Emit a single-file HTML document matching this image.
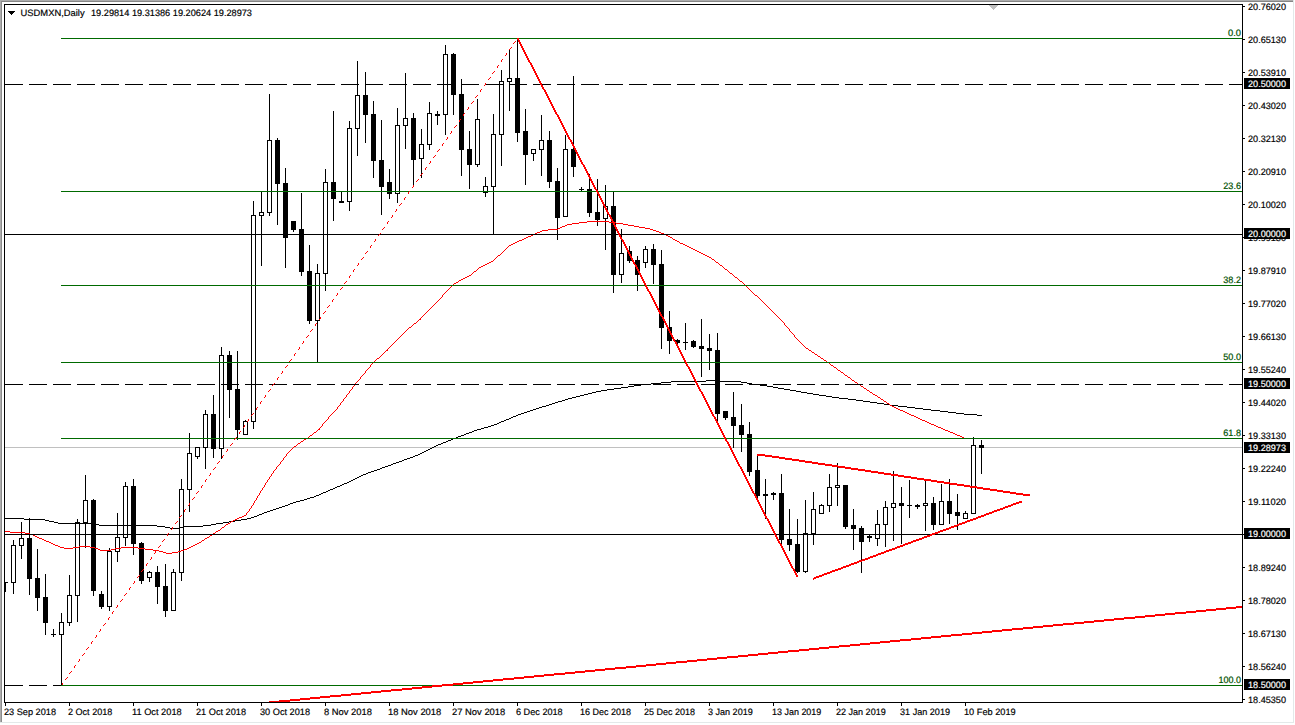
<!DOCTYPE html>
<html><head><meta charset="utf-8"><title>USDMXN,Daily</title>
<style>html,body{margin:0;padding:0;background:#fff;overflow:hidden}svg{display:block}text{font-family:"Liberation Sans",sans-serif;font-size:9.2px;fill:#000;stroke:#000;stroke-width:0.18px}</style>
</head><body>
<svg width="1295" height="725" viewBox="0 0 1295 725" shape-rendering="crispEdges">
<rect x="0" y="0" width="1295" height="725" fill="#fff"/>
<defs><clipPath id="c"><rect x="5" y="5" width="1237" height="697"/></clipPath></defs>
<g clip-path="url(#c)">
<rect x="5" y="447" width="1237" height="1" fill="#c0c0c0"/>
<rect x="5" y="582" width="1" height="10" fill="#000"/>
<rect x="3" y="582" width="5" height="1" fill="#000"/>
<rect x="13" y="540" width="1" height="54" fill="#000"/>
<rect x="11" y="545" width="5" height="38" fill="#000"/>
<rect x="12" y="546" width="3" height="36" fill="#fff"/>
<rect x="21" y="522" width="1" height="37" fill="#000"/>
<rect x="19" y="538" width="5" height="8" fill="#000"/>
<rect x="20" y="539" width="3" height="6" fill="#fff"/>
<rect x="29" y="518" width="1" height="77" fill="#000"/>
<rect x="27" y="538" width="5" height="41" fill="#000"/>
<rect x="37" y="549" width="1" height="62" fill="#000"/>
<rect x="35" y="578" width="5" height="20" fill="#000"/>
<rect x="45" y="574" width="1" height="61" fill="#000"/>
<rect x="43" y="597" width="5" height="26" fill="#000"/>
<rect x="53" y="629" width="1" height="8" fill="#000"/>
<rect x="51" y="634" width="5" height="1" fill="#000"/>
<rect x="61" y="613" width="1" height="73" fill="#000"/>
<rect x="59" y="622" width="5" height="13" fill="#000"/>
<rect x="60" y="623" width="3" height="11" fill="#fff"/>
<rect x="69" y="575" width="1" height="51" fill="#000"/>
<rect x="67" y="595" width="5" height="28" fill="#000"/>
<rect x="68" y="596" width="3" height="26" fill="#fff"/>
<rect x="77" y="519" width="1" height="103" fill="#000"/>
<rect x="75" y="522" width="5" height="74" fill="#000"/>
<rect x="76" y="523" width="3" height="72" fill="#fff"/>
<rect x="85" y="475" width="1" height="73" fill="#000"/>
<rect x="83" y="500" width="5" height="23" fill="#000"/>
<rect x="84" y="501" width="3" height="21" fill="#fff"/>
<rect x="93" y="499" width="1" height="97" fill="#000"/>
<rect x="91" y="500" width="5" height="91" fill="#000"/>
<rect x="101" y="591" width="1" height="18" fill="#000"/>
<rect x="99" y="594" width="5" height="13" fill="#000"/>
<rect x="109" y="548" width="1" height="63" fill="#000"/>
<rect x="107" y="551" width="5" height="56" fill="#000"/>
<rect x="108" y="552" width="3" height="54" fill="#fff"/>
<rect x="117" y="513" width="1" height="49" fill="#000"/>
<rect x="115" y="537" width="5" height="15" fill="#000"/>
<rect x="116" y="538" width="3" height="13" fill="#fff"/>
<rect x="125" y="482" width="1" height="64" fill="#000"/>
<rect x="123" y="486" width="5" height="52" fill="#000"/>
<rect x="124" y="487" width="3" height="50" fill="#fff"/>
<rect x="133" y="479" width="1" height="76" fill="#000"/>
<rect x="131" y="486" width="5" height="58" fill="#000"/>
<rect x="141" y="542" width="1" height="42" fill="#000"/>
<rect x="139" y="543" width="5" height="38" fill="#000"/>
<rect x="149" y="571" width="1" height="11" fill="#000"/>
<rect x="147" y="572" width="5" height="6" fill="#000"/>
<rect x="148" y="573" width="3" height="4" fill="#fff"/>
<rect x="157" y="566" width="1" height="38" fill="#000"/>
<rect x="155" y="572" width="5" height="15" fill="#000"/>
<rect x="165" y="564" width="1" height="53" fill="#000"/>
<rect x="163" y="586" width="5" height="25" fill="#000"/>
<rect x="173" y="569" width="1" height="42" fill="#000"/>
<rect x="171" y="572" width="5" height="39" fill="#000"/>
<rect x="172" y="573" width="3" height="37" fill="#fff"/>
<rect x="181" y="479" width="1" height="102" fill="#000"/>
<rect x="179" y="489" width="5" height="84" fill="#000"/>
<rect x="180" y="490" width="3" height="82" fill="#fff"/>
<rect x="189" y="433" width="1" height="79" fill="#000"/>
<rect x="187" y="453" width="5" height="37" fill="#000"/>
<rect x="188" y="454" width="3" height="35" fill="#fff"/>
<rect x="197" y="447" width="1" height="12" fill="#000"/>
<rect x="195" y="447" width="5" height="10" fill="#000"/>
<rect x="196" y="448" width="3" height="8" fill="#fff"/>
<rect x="205" y="410" width="1" height="59" fill="#000"/>
<rect x="203" y="414" width="5" height="34" fill="#000"/>
<rect x="204" y="415" width="3" height="32" fill="#fff"/>
<rect x="213" y="395" width="1" height="63" fill="#000"/>
<rect x="211" y="414" width="5" height="35" fill="#000"/>
<rect x="221" y="347" width="1" height="112" fill="#000"/>
<rect x="219" y="355" width="5" height="94" fill="#000"/>
<rect x="220" y="356" width="3" height="92" fill="#fff"/>
<rect x="229" y="351" width="1" height="67" fill="#000"/>
<rect x="227" y="355" width="5" height="35" fill="#000"/>
<rect x="237" y="351" width="1" height="89" fill="#000"/>
<rect x="235" y="389" width="5" height="41" fill="#000"/>
<rect x="245" y="420" width="1" height="15" fill="#000"/>
<rect x="243" y="421" width="5" height="14" fill="#000"/>
<rect x="244" y="422" width="3" height="12" fill="#fff"/>
<rect x="253" y="201" width="1" height="228" fill="#000"/>
<rect x="251" y="215" width="5" height="207" fill="#000"/>
<rect x="252" y="216" width="3" height="205" fill="#fff"/>
<rect x="261" y="191" width="1" height="75" fill="#000"/>
<rect x="259" y="212" width="5" height="4" fill="#000"/>
<rect x="260" y="213" width="3" height="2" fill="#fff"/>
<rect x="269" y="94" width="1" height="122" fill="#000"/>
<rect x="267" y="140" width="5" height="73" fill="#000"/>
<rect x="268" y="141" width="3" height="71" fill="#fff"/>
<rect x="277" y="138" width="1" height="87" fill="#000"/>
<rect x="275" y="140" width="5" height="44" fill="#000"/>
<rect x="285" y="168" width="1" height="100" fill="#000"/>
<rect x="283" y="183" width="5" height="55" fill="#000"/>
<rect x="293" y="221" width="1" height="11" fill="#000"/>
<rect x="291" y="221" width="5" height="9" fill="#000"/>
<rect x="301" y="193" width="1" height="83" fill="#000"/>
<rect x="299" y="229" width="5" height="43" fill="#000"/>
<rect x="309" y="245" width="1" height="79" fill="#000"/>
<rect x="307" y="271" width="5" height="50" fill="#000"/>
<rect x="317" y="264" width="1" height="99" fill="#000"/>
<rect x="315" y="273" width="5" height="48" fill="#000"/>
<rect x="316" y="274" width="3" height="46" fill="#fff"/>
<rect x="325" y="169" width="1" height="122" fill="#000"/>
<rect x="323" y="182" width="5" height="92" fill="#000"/>
<rect x="324" y="183" width="3" height="90" fill="#fff"/>
<rect x="333" y="111" width="1" height="110" fill="#000"/>
<rect x="331" y="182" width="5" height="17" fill="#000"/>
<rect x="341" y="191" width="1" height="12" fill="#000"/>
<rect x="339" y="201" width="5" height="2" fill="#000"/>
<rect x="349" y="121" width="1" height="90" fill="#000"/>
<rect x="347" y="128" width="5" height="74" fill="#000"/>
<rect x="348" y="129" width="3" height="72" fill="#fff"/>
<rect x="357" y="61" width="1" height="95" fill="#000"/>
<rect x="355" y="95" width="5" height="34" fill="#000"/>
<rect x="356" y="96" width="3" height="32" fill="#fff"/>
<rect x="365" y="72" width="1" height="71" fill="#000"/>
<rect x="363" y="95" width="5" height="20" fill="#000"/>
<rect x="373" y="101" width="1" height="77" fill="#000"/>
<rect x="371" y="114" width="5" height="47" fill="#000"/>
<rect x="381" y="120" width="1" height="95" fill="#000"/>
<rect x="379" y="160" width="5" height="27" fill="#000"/>
<rect x="389" y="169" width="1" height="30" fill="#000"/>
<rect x="387" y="182" width="5" height="12" fill="#000"/>
<rect x="397" y="108" width="1" height="95" fill="#000"/>
<rect x="395" y="125" width="5" height="69" fill="#000"/>
<rect x="396" y="126" width="3" height="67" fill="#fff"/>
<rect x="405" y="73" width="1" height="76" fill="#000"/>
<rect x="403" y="118" width="5" height="8" fill="#000"/>
<rect x="404" y="119" width="3" height="6" fill="#fff"/>
<rect x="413" y="113" width="1" height="74" fill="#000"/>
<rect x="411" y="118" width="5" height="42" fill="#000"/>
<rect x="421" y="129" width="1" height="49" fill="#000"/>
<rect x="419" y="144" width="5" height="15" fill="#000"/>
<rect x="420" y="145" width="3" height="13" fill="#fff"/>
<rect x="429" y="102" width="1" height="48" fill="#000"/>
<rect x="427" y="113" width="5" height="32" fill="#000"/>
<rect x="428" y="114" width="3" height="30" fill="#fff"/>
<rect x="437" y="111" width="1" height="14" fill="#000"/>
<rect x="435" y="114" width="5" height="2" fill="#000"/>
<rect x="445" y="45" width="1" height="90" fill="#000"/>
<rect x="443" y="54" width="5" height="61" fill="#000"/>
<rect x="444" y="55" width="3" height="59" fill="#fff"/>
<rect x="453" y="53" width="1" height="62" fill="#000"/>
<rect x="451" y="54" width="5" height="41" fill="#000"/>
<rect x="461" y="79" width="1" height="97" fill="#000"/>
<rect x="459" y="94" width="5" height="56" fill="#000"/>
<rect x="469" y="131" width="1" height="58" fill="#000"/>
<rect x="467" y="149" width="5" height="16" fill="#000"/>
<rect x="477" y="99" width="1" height="68" fill="#000"/>
<rect x="475" y="119" width="5" height="46" fill="#000"/>
<rect x="476" y="120" width="3" height="44" fill="#fff"/>
<rect x="485" y="177" width="1" height="20" fill="#000"/>
<rect x="483" y="186" width="5" height="7" fill="#000"/>
<rect x="484" y="187" width="3" height="5" fill="#fff"/>
<rect x="493" y="114" width="1" height="121" fill="#000"/>
<rect x="491" y="134" width="5" height="53" fill="#000"/>
<rect x="492" y="135" width="3" height="51" fill="#fff"/>
<rect x="501" y="70" width="1" height="96" fill="#000"/>
<rect x="499" y="81" width="5" height="54" fill="#000"/>
<rect x="500" y="82" width="3" height="52" fill="#fff"/>
<rect x="509" y="50" width="1" height="61" fill="#000"/>
<rect x="507" y="78" width="5" height="4" fill="#000"/>
<rect x="508" y="79" width="3" height="2" fill="#fff"/>
<rect x="517" y="39" width="1" height="103" fill="#000"/>
<rect x="515" y="78" width="5" height="55" fill="#000"/>
<rect x="525" y="109" width="1" height="76" fill="#000"/>
<rect x="523" y="131" width="5" height="24" fill="#000"/>
<rect x="533" y="149" width="1" height="12" fill="#000"/>
<rect x="531" y="149" width="5" height="5" fill="#000"/>
<rect x="532" y="150" width="3" height="3" fill="#fff"/>
<rect x="541" y="115" width="1" height="61" fill="#000"/>
<rect x="539" y="140" width="5" height="10" fill="#000"/>
<rect x="540" y="141" width="3" height="8" fill="#fff"/>
<rect x="549" y="131" width="1" height="57" fill="#000"/>
<rect x="547" y="140" width="5" height="42" fill="#000"/>
<rect x="557" y="168" width="1" height="72" fill="#000"/>
<rect x="555" y="181" width="5" height="37" fill="#000"/>
<rect x="565" y="135" width="1" height="82" fill="#000"/>
<rect x="563" y="149" width="5" height="68" fill="#000"/>
<rect x="564" y="150" width="3" height="66" fill="#fff"/>
<rect x="573" y="76" width="1" height="101" fill="#000"/>
<rect x="571" y="149" width="5" height="18" fill="#000"/>
<rect x="581" y="187" width="1" height="5" fill="#000"/>
<rect x="579" y="189" width="5" height="1" fill="#000"/>
<rect x="589" y="174" width="1" height="43" fill="#000"/>
<rect x="587" y="189" width="5" height="24" fill="#000"/>
<rect x="597" y="179" width="1" height="47" fill="#000"/>
<rect x="595" y="212" width="5" height="8" fill="#000"/>
<rect x="605" y="185" width="1" height="65" fill="#000"/>
<rect x="603" y="206" width="5" height="13" fill="#000"/>
<rect x="604" y="207" width="3" height="11" fill="#fff"/>
<rect x="613" y="191" width="1" height="102" fill="#000"/>
<rect x="611" y="206" width="5" height="69" fill="#000"/>
<rect x="621" y="229" width="1" height="54" fill="#000"/>
<rect x="619" y="253" width="5" height="22" fill="#000"/>
<rect x="620" y="254" width="3" height="20" fill="#fff"/>
<rect x="629" y="246" width="1" height="17" fill="#000"/>
<rect x="627" y="251" width="5" height="10" fill="#000"/>
<rect x="637" y="256" width="1" height="35" fill="#000"/>
<rect x="635" y="260" width="5" height="15" fill="#000"/>
<rect x="645" y="246" width="1" height="22" fill="#000"/>
<rect x="643" y="249" width="5" height="14" fill="#000"/>
<rect x="644" y="250" width="3" height="12" fill="#fff"/>
<rect x="653" y="244" width="1" height="40" fill="#000"/>
<rect x="651" y="249" width="5" height="16" fill="#000"/>
<rect x="661" y="250" width="1" height="99" fill="#000"/>
<rect x="659" y="264" width="5" height="64" fill="#000"/>
<rect x="669" y="311" width="1" height="43" fill="#000"/>
<rect x="667" y="327" width="5" height="14" fill="#000"/>
<rect x="677" y="339" width="1" height="5" fill="#000"/>
<rect x="675" y="340" width="5" height="3" fill="#000"/>
<rect x="685" y="323" width="1" height="27" fill="#000"/>
<rect x="683" y="342" width="5" height="1" fill="#000"/>
<rect x="693" y="340" width="1" height="8" fill="#000"/>
<rect x="691" y="341" width="5" height="6" fill="#000"/>
<rect x="701" y="319" width="1" height="58" fill="#000"/>
<rect x="699" y="346" width="5" height="3" fill="#000"/>
<rect x="709" y="334" width="1" height="36" fill="#000"/>
<rect x="707" y="348" width="5" height="3" fill="#000"/>
<rect x="717" y="333" width="1" height="88" fill="#000"/>
<rect x="715" y="350" width="5" height="64" fill="#000"/>
<rect x="725" y="411" width="1" height="9" fill="#000"/>
<rect x="723" y="411" width="5" height="7" fill="#000"/>
<rect x="733" y="392" width="1" height="56" fill="#000"/>
<rect x="731" y="417" width="5" height="9" fill="#000"/>
<rect x="741" y="404" width="1" height="48" fill="#000"/>
<rect x="739" y="425" width="5" height="10" fill="#000"/>
<rect x="749" y="422" width="1" height="54" fill="#000"/>
<rect x="747" y="434" width="5" height="38" fill="#000"/>
<rect x="757" y="455" width="1" height="43" fill="#000"/>
<rect x="755" y="470" width="5" height="26" fill="#000"/>
<rect x="765" y="479" width="1" height="40" fill="#000"/>
<rect x="763" y="494" width="5" height="2" fill="#000"/>
<rect x="773" y="492" width="1" height="8" fill="#000"/>
<rect x="771" y="493" width="5" height="2" fill="#000"/>
<rect x="781" y="474" width="1" height="71" fill="#000"/>
<rect x="779" y="493" width="5" height="47" fill="#000"/>
<rect x="789" y="509" width="1" height="42" fill="#000"/>
<rect x="787" y="539" width="5" height="6" fill="#000"/>
<rect x="797" y="519" width="1" height="54" fill="#000"/>
<rect x="795" y="544" width="5" height="28" fill="#000"/>
<rect x="805" y="500" width="1" height="73" fill="#000"/>
<rect x="803" y="533" width="5" height="39" fill="#000"/>
<rect x="804" y="534" width="3" height="37" fill="#fff"/>
<rect x="813" y="492" width="1" height="53" fill="#000"/>
<rect x="811" y="509" width="5" height="25" fill="#000"/>
<rect x="812" y="510" width="3" height="23" fill="#fff"/>
<rect x="821" y="504" width="1" height="10" fill="#000"/>
<rect x="819" y="505" width="5" height="9" fill="#000"/>
<rect x="820" y="506" width="3" height="7" fill="#fff"/>
<rect x="829" y="474" width="1" height="38" fill="#000"/>
<rect x="827" y="487" width="5" height="19" fill="#000"/>
<rect x="828" y="488" width="3" height="17" fill="#fff"/>
<rect x="837" y="463" width="1" height="43" fill="#000"/>
<rect x="835" y="485" width="5" height="3" fill="#000"/>
<rect x="836" y="486" width="3" height="1" fill="#fff"/>
<rect x="845" y="485" width="1" height="44" fill="#000"/>
<rect x="843" y="485" width="5" height="42" fill="#000"/>
<rect x="853" y="509" width="1" height="41" fill="#000"/>
<rect x="851" y="525" width="5" height="4" fill="#000"/>
<rect x="861" y="526" width="1" height="47" fill="#000"/>
<rect x="859" y="528" width="5" height="14" fill="#000"/>
<rect x="869" y="535" width="1" height="7" fill="#000"/>
<rect x="867" y="536" width="5" height="2" fill="#000"/>
<rect x="877" y="510" width="1" height="36" fill="#000"/>
<rect x="875" y="524" width="5" height="15" fill="#000"/>
<rect x="876" y="525" width="3" height="13" fill="#fff"/>
<rect x="885" y="501" width="1" height="46" fill="#000"/>
<rect x="883" y="507" width="5" height="18" fill="#000"/>
<rect x="884" y="508" width="3" height="16" fill="#fff"/>
<rect x="893" y="471" width="1" height="70" fill="#000"/>
<rect x="891" y="503" width="5" height="5" fill="#000"/>
<rect x="892" y="504" width="3" height="3" fill="#fff"/>
<rect x="901" y="487" width="1" height="57" fill="#000"/>
<rect x="899" y="503" width="5" height="3" fill="#000"/>
<rect x="909" y="480" width="1" height="38" fill="#000"/>
<rect x="907" y="505" width="5" height="1" fill="#000"/>
<rect x="917" y="504" width="1" height="5" fill="#000"/>
<rect x="915" y="505" width="5" height="2" fill="#000"/>
<rect x="925" y="480" width="1" height="51" fill="#000"/>
<rect x="923" y="503" width="5" height="3" fill="#000"/>
<rect x="924" y="504" width="3" height="1" fill="#fff"/>
<rect x="933" y="497" width="1" height="33" fill="#000"/>
<rect x="931" y="503" width="5" height="22" fill="#000"/>
<rect x="941" y="484" width="1" height="41" fill="#000"/>
<rect x="939" y="501" width="5" height="24" fill="#000"/>
<rect x="940" y="502" width="3" height="22" fill="#fff"/>
<rect x="949" y="479" width="1" height="45" fill="#000"/>
<rect x="947" y="501" width="5" height="13" fill="#000"/>
<rect x="957" y="494" width="1" height="36" fill="#000"/>
<rect x="955" y="512" width="5" height="4" fill="#000"/>
<rect x="965" y="511" width="1" height="8" fill="#000"/>
<rect x="963" y="513" width="5" height="6" fill="#000"/>
<rect x="964" y="514" width="3" height="4" fill="#fff"/>
<rect x="973" y="437" width="1" height="77" fill="#000"/>
<rect x="971" y="445" width="5" height="69" fill="#000"/>
<rect x="972" y="446" width="3" height="67" fill="#fff"/>
<rect x="981" y="440" width="1" height="34" fill="#000"/>
<rect x="979" y="445" width="5" height="3" fill="#000"/>
<path d="M5 518h19v1h-19zM24 519h21v1h-21zM45 520h4v1h-4zM49 521h5v1h-5zM54 522h4v1h-4zM58 523h37v1h-37zM95 524h4v1h-4zM99 525h58v1h-58zM157 526h8v1h-8zM165 527h5v1h-5zM170 528h9v1h-9zM179 527h4v1h-4zM183 526h20v1h-20zM203 525h8v1h-8zM211 524h5v1h-5zM216 523h7v1h-7zM223 522h6v1h-6zM229 521h6v1h-6zM235 520h6v1h-6zM241 519h6v1h-6zM247 518h4v1h-4zM251 517h3v1h-3zM254 516h3v1h-3zM257 515h2v1h-2zM259 514h3v1h-3zM262 513h2v1h-2zM264 512h3v1h-3zM267 511h3v1h-3zM270 510h3v1h-3zM273 509h3v1h-3zM276 508h3v1h-3zM279 507h3v1h-3zM282 506h3v1h-3zM285 505h3v1h-3zM288 504h2v1h-2zM290 503h3v1h-3zM293 502h3v1h-3zM296 501h4v1h-4zM300 500h4v1h-4zM304 499h3v1h-3zM307 498h3v1h-3zM310 497h4v1h-4zM314 496h2v1h-2zM316 495h3v1h-3zM319 494h2v1h-2zM321 493h2v1h-2zM323 492h3v1h-3zM326 491h2v1h-2zM328 490h2v1h-2zM330 489h3v1h-3zM333 488h2v1h-2zM335 487h2v1h-2zM337 486h3v1h-3zM340 485h2v1h-2zM342 484h2v1h-2zM344 483h3v1h-3zM347 482h2v1h-2zM349 481h2v1h-2zM351 480h2v1h-2zM353 479h2v1h-2zM355 478h2v1h-2zM357 477h2v1h-2zM359 476h2v1h-2zM361 475h2v1h-2zM363 474h3v1h-3zM366 473h2v1h-2zM368 472h3v1h-3zM371 471h3v1h-3zM374 470h3v1h-3zM377 469h3v1h-3zM380 468h2v1h-2zM382 467h3v1h-3zM385 466h3v1h-3zM388 465h3v1h-3zM391 464h2v1h-2zM393 463h3v1h-3zM396 462h3v1h-3zM399 461h3v1h-3zM402 460h2v1h-2zM404 459h3v1h-3zM407 458h3v1h-3zM410 457h3v1h-3zM413 456h2v1h-2zM415 455h3v1h-3zM418 454h2v1h-2zM420 453h2v1h-2zM422 452h2v1h-2zM424 451h2v1h-2zM426 450h2v1h-2zM428 449h2v1h-2zM430 448h2v1h-2zM432 447h2v1h-2zM434 446h2v1h-2zM436 445h2v1h-2zM438 444h3v1h-3zM441 443h2v1h-2zM443 442h3v1h-3zM446 441h2v1h-2zM448 440h3v1h-3zM451 439h2v1h-2zM453 438h3v1h-3zM456 437h2v1h-2zM458 436h3v1h-3zM461 435h3v1h-3zM464 434h2v1h-2zM466 433h3v1h-3zM469 432h3v1h-3zM472 431h2v1h-2zM474 430h3v1h-3zM477 429h4v1h-4zM481 428h3v1h-3zM484 427h4v1h-4zM488 426h3v1h-3zM491 425h3v1h-3zM494 424h3v1h-3zM497 423h2v1h-2zM499 422h2v1h-2zM501 421h3v1h-3zM504 420h2v1h-2zM506 419h3v1h-3zM509 418h2v1h-2zM511 417h2v1h-2zM513 416h3v1h-3zM516 415h2v1h-2zM518 414h3v1h-3zM521 413h3v1h-3zM524 412h3v1h-3zM527 411h3v1h-3zM530 410h3v1h-3zM533 409h3v1h-3zM536 408h3v1h-3zM539 407h3v1h-3zM542 406h4v1h-4zM546 405h3v1h-3zM549 404h3v1h-3zM552 403h3v1h-3zM555 402h3v1h-3zM558 401h4v1h-4zM562 400h3v1h-3zM565 399h3v1h-3zM568 398h4v1h-4zM572 397h4v1h-4zM576 396h4v1h-4zM580 395h4v1h-4zM584 394h4v1h-4zM588 393h4v1h-4zM592 392h4v1h-4zM596 391h5v1h-5zM601 390h6v1h-6zM607 389h7v1h-7zM614 388h7v1h-7zM621 387h7v1h-7zM628 386h6v1h-6zM634 385h7v1h-7zM641 384h10v1h-10zM651 383h10v1h-10zM661 382h10v1h-10zM671 381h35v1h-35zM706 380h11v1h-11zM717 381h24v1h-24zM741 382h6v1h-6zM747 383h5v1h-5zM752 384h8v1h-8zM760 385h7v1h-7zM767 386h6v1h-6zM773 387h5v1h-5zM778 388h6v1h-6zM784 389h6v1h-6zM790 390h6v1h-6zM796 391h5v1h-5zM801 392h6v1h-6zM807 393h6v1h-6zM813 394h6v1h-6zM819 395h7v1h-7zM826 396h6v1h-6zM832 397h7v1h-7zM839 398h9v1h-9zM848 399h8v1h-8zM856 400h7v1h-7zM863 401h7v1h-7zM870 402h7v1h-7zM877 403h7v1h-7zM884 404h6v1h-6zM890 405h8v1h-8zM898 406h9v1h-9zM907 407h8v1h-8zM915 408h8v1h-8zM923 409h8v1h-8zM931 410h9v1h-9zM940 411h8v1h-8zM948 412h8v1h-8zM956 413h8v1h-8zM964 414h13v1h-13zM977 415h5v1h-5z" fill="#000"/>
<path d="M5 531h5v1h-5zM10 532h15v1h-15zM25 533h5v1h-5zM30 534h3v1h-3zM33 535h2v1h-2zM35 536h2v1h-2zM37 537h2v1h-2zM39 538h3v1h-3zM42 539h2v1h-2zM44 540h2v1h-2zM46 541h3v1h-3zM49 542h2v1h-2zM51 543h2v1h-2zM53 544h2v1h-2zM55 545h3v1h-3zM58 546h2v1h-2zM60 547h4v1h-4zM64 548h9v1h-9zM73 547h6v1h-6zM79 546h11v1h-11zM90 547h5v1h-5zM95 548h3v1h-3zM98 549h2v1h-2zM100 550h11v1h-11zM111 549h4v1h-4zM115 548h6v1h-6zM121 547h17v1h-17zM138 548h7v1h-7zM145 549h8v1h-8zM153 550h6v1h-6zM159 551h4v1h-4zM163 552h3v1h-3zM166 553h6v1h-6zM172 552h6v1h-6zM178 551h3v1h-3zM181 550h3v1h-3zM184 549h3v1h-3zM187 548h2v1h-2zM189 547h2v1h-2zM191 546h2v1h-2zM193 545h2v1h-2zM195 544h2v1h-2zM197 543h2v1h-2zM199 542h2v1h-2zM201 541h1v1h-1zM202 540h2v1h-2zM204 539h1v1h-1zM205 538h2v1h-2zM207 537h2v1h-2zM209 536h1v1h-1zM210 535h2v1h-2zM212 534h1v1h-1zM213 533h2v1h-2zM215 532h1v1h-1zM216 531h2v1h-2zM218 530h2v1h-2zM220 529h1v1h-1zM221 528h1v1h-1zM222 527h2v1h-2zM224 526h1v1h-1zM225 525h1v1h-1zM226 524h2v1h-2zM228 523h2v1h-2zM230 522h1v1h-1zM231 521h2v1h-2zM233 520h2v1h-2zM235 519h2v1h-2zM237 518h2v1h-2zM239 517h3v1h-3zM242 516h2v1h-2zM244 515h2v1h-2zM246 513h1v2h-1zM247 512h1v1h-1zM248 511h1v1h-1zM249 509h1v2h-1zM250 508h1v1h-1zM251 506h1v2h-1zM252 505h1v1h-1zM253 503h1v2h-1zM254 501h1v2h-1zM255 500h1v1h-1zM256 498h1v2h-1zM257 496h1v2h-1zM258 495h1v1h-1zM259 493h1v2h-1zM260 491h1v2h-1zM261 490h1v1h-1zM262 488h1v2h-1zM263 487h1v1h-1zM264 485h1v2h-1zM265 483h1v2h-1zM266 482h1v1h-1zM267 480h1v2h-1zM268 479h1v1h-1zM269 477h1v2h-1zM270 476h1v1h-1zM271 474h1v2h-1zM272 473h1v1h-1zM273 471h1v2h-1zM274 470h1v1h-1zM275 469h1v1h-1zM276 467h1v2h-1zM277 466h1v1h-1zM278 465h1v1h-1zM279 464h1v1h-1zM280 462h1v2h-1zM281 461h1v1h-1zM282 460h1v1h-1zM283 458h1v2h-1zM284 457h1v1h-1zM285 456h1v1h-1zM286 454h1v2h-1zM287 453h1v1h-1zM288 452h1v1h-1zM289 451h1v1h-1zM290 450h1v1h-1zM291 449h1v1h-1zM292 448h1v1h-1zM293 447h1v1h-1zM294 446h2v1h-2zM296 445h1v1h-1zM297 444h1v1h-1zM298 443h2v1h-2zM300 442h1v1h-1zM301 441h2v1h-2zM303 440h1v1h-1zM304 439h2v1h-2zM306 438h2v1h-2zM308 437h1v1h-1zM309 436h1v1h-1zM310 435h2v1h-2zM312 434h1v1h-1zM313 433h1v1h-1zM314 432h2v1h-2zM316 431h1v1h-1zM317 430h1v1h-1zM318 429h1v1h-1zM319 428h1v2h-1zM320 427h1v1h-1zM321 426h1v1h-1zM322 424h1v2h-1zM323 423h1v1h-1zM324 422h1v1h-1zM325 421h1v1h-1zM326 420h1v1h-1zM327 419h1v1h-1zM328 417h1v2h-1zM329 416h1v1h-1zM330 415h1v1h-1zM331 414h1v1h-1zM332 413h1v1h-1zM333 412h1v1h-1zM334 411h1v1h-1zM335 410h1v1h-1zM336 409h1v1h-1zM337 407h1v2h-1zM338 406h1v1h-1zM339 405h1v1h-1zM340 403h1v2h-1zM341 402h1v1h-1zM342 401h1v1h-1zM343 399h1v2h-1zM344 398h1v1h-1zM345 397h1v1h-1zM346 395h1v2h-1zM347 394h1v1h-1zM348 393h1v1h-1zM349 391h1v2h-1zM350 390h1v1h-1zM351 389h1v1h-1zM352 387h1v2h-1zM353 386h1v1h-1zM354 385h1v1h-1zM355 383h1v2h-1zM356 382h1v1h-1zM357 381h1v1h-1zM358 380h1v1h-1zM359 379h1v1h-1zM360 377h1v2h-1zM361 376h1v1h-1zM362 375h1v1h-1zM363 374h1v1h-1zM364 373h1v1h-1zM365 371h1v2h-1zM366 370h1v1h-1zM367 369h1v1h-1zM368 368h1v1h-1zM369 367h1v1h-1zM370 365h1v2h-1zM371 364h1v1h-1zM372 363h1v1h-1zM373 362h1v1h-1zM374 361h1v1h-1zM375 360h1v1h-1zM376 359h1v1h-1zM377 358h2v1h-2zM379 357h1v1h-1zM380 356h1v1h-1zM381 355h1v1h-1zM382 354h1v1h-1zM383 353h1v1h-1zM384 352h1v1h-1zM385 351h1v1h-1zM386 350h1v1h-1zM387 349h1v2h-1zM388 348h1v1h-1zM389 347h1v1h-1zM390 346h1v1h-1zM391 345h1v1h-1zM392 344h1v1h-1zM393 343h1v1h-1zM394 342h1v1h-1zM395 341h1v1h-1zM396 340h1v1h-1zM397 339h1v1h-1zM398 338h1v1h-1zM399 337h1v1h-1zM400 336h1v1h-1zM401 335h1v1h-1zM402 334h1v1h-1zM403 333h1v1h-1zM404 332h1v1h-1zM405 331h1v1h-1zM406 330h1v1h-1zM407 329h1v1h-1zM408 328h1v1h-1zM409 327h2v1h-2zM411 326h1v1h-1zM412 325h1v1h-1zM413 324h1v1h-1zM414 323h2v1h-2zM416 322h1v1h-1zM417 321h1v1h-1zM418 320h1v1h-1zM419 319h1v1h-1zM420 318h1v2h-1zM421 317h1v1h-1zM422 316h1v1h-1zM423 315h1v1h-1zM424 314h1v1h-1zM425 313h1v1h-1zM426 312h1v1h-1zM427 311h1v1h-1zM428 310h1v1h-1zM429 309h1v1h-1zM430 308h1v1h-1zM431 307h1v1h-1zM432 306h1v1h-1zM433 305h1v1h-1zM434 304h1v1h-1zM435 303h1v1h-1zM436 302h1v1h-1zM437 301h1v1h-1zM438 300h1v1h-1zM439 299h1v1h-1zM440 298h1v1h-1zM441 297h1v1h-1zM442 295h1v2h-1zM443 294h1v1h-1zM444 293h1v1h-1zM445 292h1v1h-1zM446 291h1v1h-1zM447 290h1v1h-1zM448 289h1v1h-1zM449 288h1v1h-1zM450 287h1v1h-1zM451 286h1v1h-1zM452 285h1v1h-1zM453 284h1v1h-1zM454 283h2v1h-2zM456 282h2v1h-2zM458 281h1v1h-1zM459 280h2v1h-2zM461 279h2v1h-2zM463 278h2v1h-2zM465 277h2v1h-2zM467 276h2v1h-2zM469 275h2v1h-2zM471 274h1v1h-1zM472 273h1v1h-1zM473 272h1v1h-1zM474 271h2v1h-2zM476 270h1v1h-1zM477 269h1v1h-1zM478 268h1v1h-1zM479 267h2v1h-2zM481 266h2v1h-2zM483 265h2v1h-2zM485 264h2v1h-2zM487 263h2v1h-2zM489 262h2v1h-2zM491 261h2v1h-2zM493 260h1v1h-1zM494 259h1v1h-1zM495 258h1v1h-1zM496 257h1v1h-1zM497 256h1v1h-1zM498 255h2v1h-2zM500 254h1v1h-1zM501 253h1v1h-1zM502 252h1v1h-1zM503 251h1v1h-1zM504 250h1v1h-1zM505 249h1v1h-1zM506 248h1v1h-1zM507 247h1v1h-1zM508 246h1v1h-1zM509 245h2v1h-2zM511 244h2v1h-2zM513 243h2v1h-2zM515 242h2v1h-2zM517 241h2v1h-2zM519 240h3v1h-3zM522 239h2v1h-2zM524 238h2v1h-2zM526 237h2v1h-2zM528 236h3v1h-3zM531 235h2v1h-2zM533 234h2v1h-2zM535 233h2v1h-2zM537 232h3v1h-3zM540 231h2v1h-2zM542 230h6v1h-6zM548 229h10v1h-10zM558 228h2v1h-2zM560 227h2v1h-2zM562 226h3v1h-3zM565 225h2v1h-2zM567 224h5v1h-5zM572 223h7v1h-7zM579 222h8v1h-8zM587 221h22v1h-22zM609 222h7v1h-7zM616 223h7v1h-7zM623 224h5v1h-5zM628 225h6v1h-6zM634 226h5v1h-5zM639 227h6v1h-6zM645 228h5v1h-5zM650 229h3v1h-3zM653 230h3v1h-3zM656 231h3v1h-3zM659 232h2v1h-2zM661 233h3v1h-3zM664 234h2v1h-2zM666 235h2v1h-2zM668 236h2v1h-2zM670 237h2v1h-2zM672 238h1v1h-1zM673 239h2v1h-2zM675 240h2v1h-2zM677 241h2v1h-2zM679 242h1v1h-1zM680 243h3v1h-3zM683 244h2v1h-2zM685 245h2v1h-2zM687 246h2v1h-2zM689 247h2v1h-2zM691 248h2v1h-2zM693 249h2v1h-2zM695 250h2v1h-2zM697 251h2v1h-2zM699 252h2v1h-2zM701 253h2v1h-2zM703 254h2v1h-2zM705 255h2v1h-2zM707 256h2v1h-2zM709 257h2v1h-2zM711 258h1v1h-1zM712 259h2v1h-2zM714 260h1v1h-1zM715 261h1v1h-1zM716 262h2v1h-2zM718 263h1v1h-1zM719 264h1v1h-1zM720 265h2v1h-2zM722 266h1v1h-1zM723 267h1v1h-1zM724 268h1v1h-1zM725 269h2v1h-2zM727 270h1v1h-1zM728 271h1v1h-1zM729 272h1v1h-1zM730 273h2v1h-2zM732 274h1v1h-1zM733 275h1v1h-1zM734 276h1v1h-1zM735 277h2v1h-2zM737 278h1v1h-1zM738 279h1v1h-1zM739 280h1v1h-1zM740 281h2v1h-2zM742 282h1v1h-1zM743 283h1v1h-1zM744 284h1v1h-1zM745 285h1v1h-1zM746 286h1v1h-1zM747 287h1v1h-1zM748 288h1v1h-1zM749 289h1v1h-1zM750 290h1v1h-1zM751 291h1v1h-1zM752 292h1v1h-1zM753 293h1v1h-1zM754 294h1v1h-1zM755 295h2v1h-2zM757 296h1v1h-1zM758 297h1v1h-1zM759 298h1v1h-1zM760 299h1v1h-1zM761 300h1v1h-1zM762 301h1v1h-1zM763 302h1v1h-1zM764 303h1v1h-1zM765 304h1v1h-1zM766 305h1v1h-1zM767 306h1v1h-1zM768 307h1v1h-1zM769 308h1v1h-1zM770 309h1v1h-1zM771 310h1v1h-1zM772 311h1v1h-1zM773 312h1v1h-1zM774 313h1v1h-1zM775 314h1v1h-1zM776 315h1v1h-1zM777 316h1v1h-1zM778 317h1v1h-1zM779 318h1v1h-1zM780 319h1v1h-1zM781 320h1v1h-1zM782 321h1v1h-1zM783 322h1v1h-1zM784 323h1v2h-1zM785 325h1v1h-1zM786 326h1v1h-1zM787 327h1v1h-1zM788 328h1v1h-1zM789 329h1v2h-1zM790 331h1v1h-1zM791 332h1v1h-1zM792 333h1v1h-1zM793 334h1v1h-1zM794 335h1v2h-1zM795 337h1v1h-1zM796 338h1v1h-1zM797 339h1v1h-1zM798 340h1v1h-1zM799 341h1v1h-1zM800 342h1v1h-1zM801 343h1v1h-1zM802 344h1v1h-1zM803 345h1v1h-1zM804 346h1v1h-1zM805 347h1v1h-1zM806 348h2v1h-2zM808 349h1v1h-1zM809 350h2v1h-2zM811 351h1v1h-1zM812 352h2v1h-2zM814 353h1v1h-1zM815 354h2v1h-2zM817 355h1v1h-1zM818 356h2v1h-2zM820 357h1v1h-1zM821 358h2v1h-2zM823 359h1v1h-1zM824 360h2v1h-2zM826 361h1v1h-1zM827 362h2v1h-2zM829 363h1v1h-1zM830 364h1v1h-1zM831 365h2v1h-2zM833 366h1v1h-1zM834 367h2v1h-2zM836 368h1v1h-1zM837 369h1v1h-1zM838 370h2v1h-2zM840 371h1v1h-1zM841 372h2v1h-2zM843 373h1v1h-1zM844 374h1v1h-1zM845 375h2v1h-2zM847 376h1v1h-1zM848 377h2v1h-2zM850 378h1v1h-1zM851 379h1v1h-1zM852 380h2v1h-2zM854 381h1v1h-1zM855 382h2v1h-2zM857 383h1v1h-1zM858 384h2v1h-2zM860 385h1v1h-1zM861 386h2v1h-2zM863 387h1v1h-1zM864 388h2v1h-2zM866 389h1v1h-1zM867 390h2v1h-2zM869 391h1v1h-1zM870 392h2v1h-2zM872 393h1v1h-1zM873 394h2v1h-2zM875 395h2v1h-2zM877 396h1v1h-1zM878 397h2v1h-2zM880 398h1v1h-1zM881 399h2v1h-2zM883 400h1v1h-1zM884 401h2v1h-2zM886 402h1v1h-1zM887 403h2v1h-2zM889 404h1v1h-1zM890 405h2v1h-2zM892 406h2v1h-2zM894 407h2v1h-2zM896 408h2v1h-2zM898 409h2v1h-2zM900 410h3v1h-3zM903 411h2v1h-2zM905 412h2v1h-2zM907 413h2v1h-2zM909 414h2v1h-2zM911 415h3v1h-3zM914 416h2v1h-2zM916 417h2v1h-2zM918 418h2v1h-2zM920 419h2v1h-2zM922 420h3v1h-3zM925 421h2v1h-2zM927 422h2v1h-2zM929 423h2v1h-2zM931 424h3v1h-3zM934 425h2v1h-2zM936 426h2v1h-2zM938 427h3v1h-3zM941 428h2v1h-2zM943 429h2v1h-2zM945 430h3v1h-3zM948 431h2v1h-2zM950 432h3v1h-3zM953 433h2v1h-2zM955 434h2v1h-2zM957 435h3v1h-3zM960 436h2v1h-2zM962 437h2v1h-2zM964 438h1v1h-1z" fill="#ff0000"/>
<rect x="61" y="38" width="1181" height="1" fill="#006a00"/>
<rect x="61" y="191" width="1181" height="1" fill="#006a00"/>
<rect x="61" y="285" width="1181" height="1" fill="#006a00"/>
<rect x="61" y="362" width="1181" height="1" fill="#006a00"/>
<rect x="61" y="438" width="1181" height="1" fill="#006a00"/>
<rect x="61" y="685" width="1181" height="1" fill="#006a00"/>
<rect x="5" y="234" width="1237" height="1" fill="#000"/>
<rect x="5" y="534" width="1237" height="1" fill="#000"/>
<line x1="5" y1="84.5" x2="1242" y2="84.5" stroke="#000" stroke-width="1" stroke-dasharray="18 6"/>
<line x1="5" y1="384.5" x2="1242" y2="384.5" stroke="#000" stroke-width="1" stroke-dasharray="18 6"/>
<line x1="5" y1="685.5" x2="61" y2="685.5" stroke="#000" stroke-width="1" stroke-dasharray="18 6"/>
<path d="M62 684h1v1h-1zM62 683h1v1h-1zM65 679h1v1h-1zM66 678h1v1h-1zM67 677h1v1h-1zM69 673h1v1h-1zM70 672h1v1h-1zM71 671h1v1h-1zM74 667h1v1h-1zM74 666h1v1h-1zM75 665h1v1h-1zM78 661h1v1h-1zM79 660h1v1h-1zM79 659h1v1h-1zM82 655h1v1h-1zM83 654h1v1h-1zM84 653h1v1h-1zM86 649h1v1h-1zM87 648h1v1h-1zM88 647h1v1h-1zM91 643h1v1h-1zM91 642h1v1h-1zM92 641h1v1h-1zM95 637h1v1h-1zM96 636h1v1h-1zM96 635h1v1h-1zM99 631h1v1h-1zM100 630h1v1h-1zM100 629h1v1h-1zM103 625h1v1h-1zM104 624h1v1h-1zM105 623h1v1h-1zM108 619h1v1h-1zM108 618h1v1h-1zM109 617h1v1h-1zM112 613h1v1h-1zM112 612h1v1h-1zM113 611h1v1h-1zM116 607h1v1h-1zM117 606h1v1h-1zM117 605h1v1h-1zM120 601h1v1h-1zM121 600h1v1h-1zM122 599h1v1h-1zM124 595h1v1h-1zM125 594h1v1h-1zM126 593h1v1h-1zM129 589h1v1h-1zM129 588h1v1h-1zM130 587h1v1h-1zM133 583h1v1h-1zM134 582h1v1h-1zM134 581h1v1h-1zM137 577h1v1h-1zM138 576h1v1h-1zM139 575h1v1h-1zM141 571h1v1h-1zM142 570h1v1h-1zM143 569h1v1h-1zM146 565h1v1h-1zM146 564h1v1h-1zM147 563h1v1h-1zM150 559h1v1h-1zM151 558h1v1h-1zM151 557h1v1h-1zM154 553h1v1h-1zM155 552h1v1h-1zM155 551h1v1h-1zM158 547h1v1h-1zM159 546h1v1h-1zM160 545h1v1h-1zM162 541h1v1h-1zM163 540h1v1h-1zM164 539h1v1h-1zM167 535h1v1h-1zM167 534h1v1h-1zM168 533h1v1h-1zM171 529h1v1h-1zM172 528h1v1h-1zM172 527h1v1h-1zM175 523h1v1h-1zM176 522h1v1h-1zM177 521h1v1h-1zM179 517h1v1h-1zM180 516h1v1h-1zM181 515h1v1h-1zM184 511h1v1h-1zM184 510h1v1h-1zM185 509h1v1h-1zM188 505h1v1h-1zM189 504h1v1h-1zM189 503h1v1h-1zM192 499h1v1h-1zM193 498h1v1h-1zM194 497h1v1h-1zM196 493h1v1h-1zM197 492h1v1h-1zM198 491h1v1h-1zM201 487h1v1h-1zM201 486h1v1h-1zM202 485h1v1h-1zM205 481h1v1h-1zM205 480h1v1h-1zM206 479h1v1h-1zM209 475h1v1h-1zM210 474h1v1h-1zM210 473h1v1h-1zM213 469h1v1h-1zM214 468h1v1h-1zM215 467h1v1h-1zM217 463h1v1h-1zM218 462h1v1h-1zM219 461h1v1h-1zM222 457h1v1h-1zM222 456h1v1h-1zM223 455h1v1h-1zM226 451h1v1h-1zM227 450h1v1h-1zM227 449h1v1h-1zM230 445h1v1h-1zM231 444h1v1h-1zM232 443h1v1h-1zM234 439h1v1h-1zM235 438h1v1h-1zM236 437h1v1h-1zM239 433h1v1h-1zM239 432h1v1h-1zM240 431h1v1h-1zM243 427h1v1h-1zM244 426h1v1h-1zM244 425h1v1h-1zM247 421h1v1h-1zM248 420h1v1h-1zM248 419h1v1h-1zM251 415h1v1h-1zM252 414h1v1h-1zM253 413h1v1h-1zM256 409h1v1h-1zM256 408h1v1h-1zM257 407h1v1h-1zM260 403h1v1h-1zM260 402h1v1h-1zM261 401h1v1h-1zM264 397h1v1h-1zM265 396h1v1h-1zM265 395h1v1h-1zM268 391h1v1h-1zM269 390h1v1h-1zM270 389h1v1h-1zM272 385h1v1h-1zM273 384h1v1h-1zM274 383h1v1h-1zM277 379h1v1h-1zM277 378h1v1h-1zM278 377h1v1h-1zM281 373h1v1h-1zM282 372h1v1h-1zM282 371h1v1h-1zM285 367h1v1h-1zM286 366h1v1h-1zM287 365h1v1h-1zM289 361h1v1h-1zM290 360h1v1h-1zM291 359h1v1h-1zM294 355h1v1h-1zM294 354h1v1h-1zM295 353h1v1h-1zM298 349h1v1h-1zM299 348h1v1h-1zM299 347h1v1h-1zM302 343h1v1h-1zM303 342h1v1h-1zM303 341h1v1h-1zM306 337h1v1h-1zM307 336h1v1h-1zM308 335h1v1h-1zM310 331h1v1h-1zM311 330h1v1h-1zM312 329h1v1h-1zM315 325h1v1h-1zM315 324h1v1h-1zM316 323h1v1h-1zM319 319h1v1h-1zM320 318h1v1h-1zM320 317h1v1h-1zM323 313h1v1h-1zM324 312h1v1h-1zM325 311h1v1h-1zM327 307h1v1h-1zM328 306h1v1h-1zM329 305h1v1h-1zM332 301h1v1h-1zM332 300h1v1h-1zM333 299h1v1h-1zM336 295h1v1h-1zM337 294h1v1h-1zM337 293h1v1h-1zM340 289h1v1h-1zM341 288h1v1h-1zM342 287h1v1h-1zM344 283h1v1h-1zM345 282h1v1h-1zM346 281h1v1h-1zM349 277h1v1h-1zM349 276h1v1h-1zM350 275h1v1h-1zM353 271h1v1h-1zM353 270h1v1h-1zM354 269h1v1h-1zM357 265h1v1h-1zM358 264h1v1h-1zM358 263h1v1h-1zM361 259h1v1h-1zM362 258h1v1h-1zM363 257h1v1h-1zM365 253h1v1h-1zM366 252h1v1h-1zM367 251h1v1h-1zM370 247h1v1h-1zM370 246h1v1h-1zM371 245h1v1h-1zM374 241h1v1h-1zM375 240h1v1h-1zM375 239h1v1h-1zM378 235h1v1h-1zM379 234h1v1h-1zM380 233h1v1h-1zM382 229h1v1h-1zM383 228h1v1h-1zM384 227h1v1h-1zM387 223h1v1h-1zM387 222h1v1h-1zM388 221h1v1h-1zM391 217h1v1h-1zM392 216h1v1h-1zM392 215h1v1h-1zM395 211h1v1h-1zM396 210h1v1h-1zM396 209h1v1h-1zM399 205h1v1h-1zM400 204h1v1h-1zM401 203h1v1h-1zM404 199h1v1h-1zM404 198h1v1h-1zM405 197h1v1h-1zM408 193h1v1h-1zM408 192h1v1h-1zM409 191h1v1h-1zM412 187h1v1h-1zM413 186h1v1h-1zM413 185h1v1h-1zM416 181h1v1h-1zM417 180h1v1h-1zM418 179h1v1h-1zM420 175h1v1h-1zM421 174h1v1h-1zM422 173h1v1h-1zM425 169h1v1h-1zM425 168h1v1h-1zM426 167h1v1h-1zM429 163h1v1h-1zM430 162h1v1h-1zM430 161h1v1h-1zM433 157h1v1h-1zM434 156h1v1h-1zM435 155h1v1h-1zM437 151h1v1h-1zM438 150h1v1h-1zM439 149h1v1h-1zM442 145h1v1h-1zM442 144h1v1h-1zM443 143h1v1h-1zM446 139h1v1h-1zM447 138h1v1h-1zM447 137h1v1h-1zM450 133h1v1h-1zM451 132h1v1h-1zM451 131h1v1h-1zM454 127h1v1h-1zM455 126h1v1h-1zM456 125h1v1h-1zM459 121h1v1h-1zM459 120h1v1h-1zM460 119h1v1h-1zM463 115h1v1h-1zM463 114h1v1h-1zM464 113h1v1h-1zM467 109h1v1h-1zM468 108h1v1h-1zM468 107h1v1h-1zM471 103h1v1h-1zM472 102h1v1h-1zM473 101h1v1h-1zM475 97h1v1h-1zM476 96h1v1h-1zM477 95h1v1h-1zM480 91h1v1h-1zM480 90h1v1h-1zM481 89h1v1h-1zM484 85h1v1h-1zM485 84h1v1h-1zM485 83h1v1h-1zM488 79h1v1h-1zM489 78h1v1h-1zM490 77h1v1h-1zM492 73h1v1h-1zM493 72h1v1h-1zM494 71h1v1h-1zM497 67h1v1h-1zM497 66h1v1h-1zM498 65h1v1h-1zM501 61h1v1h-1zM501 60h1v1h-1zM502 59h1v1h-1zM505 55h1v1h-1zM506 54h1v1h-1zM506 53h1v1h-1zM509 49h1v1h-1zM510 48h1v1h-1zM511 47h1v1h-1zM513 43h1v1h-1zM514 42h1v1h-1zM515 41h1v1h-1z" fill="#ff0000"/>
<path d="M517 38h2v2h-2zM518 40h2v2h-2zM519 42h2v2h-2zM520 44h2v2h-2zM521 46h2v2h-2zM522 48h2v2h-2zM523 50h2v2h-2zM524 52h2v2h-2zM525 54h2v2h-2zM526 56h2v2h-2zM527 58h2v2h-2zM528 60h2v2h-2zM529 62h2v1h-2zM530 63h2v2h-2zM531 65h2v2h-2zM532 67h2v2h-2zM533 69h2v2h-2zM534 71h2v2h-2zM535 73h2v2h-2zM536 75h2v2h-2zM537 77h2v2h-2zM538 79h2v2h-2zM539 81h2v2h-2zM540 83h2v2h-2zM541 85h2v2h-2zM542 87h2v2h-2zM543 89h2v1h-2zM544 90h2v2h-2zM545 92h2v2h-2zM546 94h2v2h-2zM547 96h2v2h-2zM548 98h2v2h-2zM549 100h2v2h-2zM550 102h2v2h-2zM551 104h2v2h-2zM552 106h2v2h-2zM553 108h2v2h-2zM554 110h2v2h-2zM555 112h2v2h-2zM556 114h2v1h-2zM557 115h2v2h-2zM558 117h2v2h-2zM559 119h2v2h-2zM560 121h2v2h-2zM561 123h2v2h-2zM562 125h2v2h-2zM563 127h2v2h-2zM564 129h2v2h-2zM565 131h2v2h-2zM566 133h2v2h-2zM567 135h2v2h-2zM568 137h2v2h-2zM569 139h2v1h-2zM570 140h2v2h-2zM571 142h2v2h-2zM572 144h2v2h-2zM573 146h2v2h-2zM574 148h2v2h-2zM575 150h2v2h-2zM576 152h2v2h-2zM577 154h2v2h-2zM578 156h2v2h-2zM579 158h2v2h-2zM580 160h2v2h-2zM581 162h2v2h-2zM582 164h2v1h-2zM583 165h2v2h-2zM584 167h2v2h-2zM585 169h2v2h-2zM586 171h2v2h-2zM587 173h2v2h-2zM588 175h2v2h-2zM589 177h2v2h-2zM590 179h2v2h-2zM591 181h2v2h-2zM592 183h2v2h-2zM593 185h2v2h-2zM594 187h2v2h-2zM595 189h2v1h-2zM596 190h2v2h-2zM597 192h2v2h-2zM598 194h2v2h-2zM599 196h2v2h-2zM600 198h2v2h-2zM601 200h2v2h-2zM602 202h2v2h-2zM603 204h2v2h-2zM604 206h2v2h-2zM605 208h2v2h-2zM606 210h2v2h-2zM607 212h2v2h-2zM608 214h2v1h-2zM609 215h2v2h-2zM610 217h2v2h-2zM611 219h2v2h-2zM612 221h2v2h-2zM613 223h2v2h-2zM614 225h2v2h-2zM615 227h2v2h-2zM616 229h2v2h-2zM617 231h2v2h-2zM618 233h2v2h-2zM619 235h2v2h-2zM620 237h2v2h-2zM621 239h2v1h-2zM622 240h2v2h-2zM623 242h2v2h-2zM624 244h2v2h-2zM625 246h2v2h-2zM626 248h2v2h-2zM627 250h2v2h-2zM628 252h2v2h-2zM629 254h2v2h-2zM630 256h2v2h-2zM631 258h2v2h-2zM632 260h2v2h-2zM633 262h2v2h-2zM634 264h2v1h-2zM635 265h2v2h-2zM636 267h2v2h-2zM637 269h2v2h-2zM638 271h2v2h-2zM639 273h2v2h-2zM640 275h2v2h-2zM641 277h2v2h-2zM642 279h2v2h-2zM643 281h2v2h-2zM644 283h2v2h-2zM645 285h2v2h-2zM646 287h2v2h-2zM647 289h2v2h-2zM648 291h2v1h-2zM649 292h2v2h-2zM650 294h2v2h-2zM651 296h2v2h-2zM652 298h2v2h-2zM653 300h2v2h-2zM654 302h2v2h-2zM655 304h2v2h-2zM656 306h2v2h-2zM657 308h2v2h-2zM658 310h2v2h-2zM659 312h2v2h-2zM660 314h2v2h-2zM661 316h2v1h-2zM662 317h2v2h-2zM663 319h2v2h-2zM664 321h2v2h-2zM665 323h2v2h-2zM666 325h2v2h-2zM667 327h2v2h-2zM668 329h2v2h-2zM669 331h2v2h-2zM670 333h2v2h-2zM671 335h2v2h-2zM672 337h2v2h-2zM673 339h2v2h-2zM674 341h2v1h-2zM675 342h2v2h-2zM676 344h2v2h-2zM677 346h2v2h-2zM678 348h2v2h-2zM679 350h2v2h-2zM680 352h2v2h-2zM681 354h2v2h-2zM682 356h2v2h-2zM683 358h2v2h-2zM684 360h2v2h-2zM685 362h2v2h-2zM686 364h2v2h-2zM687 366h2v1h-2zM688 367h2v2h-2zM689 369h2v2h-2zM690 371h2v2h-2zM691 373h2v2h-2zM692 375h2v2h-2zM693 377h2v2h-2zM694 379h2v2h-2zM695 381h2v2h-2zM696 383h2v2h-2zM697 385h2v2h-2zM698 387h2v2h-2zM699 389h2v2h-2zM700 391h2v1h-2zM701 392h2v2h-2zM702 394h2v2h-2zM703 396h2v2h-2zM704 398h2v2h-2zM705 400h2v2h-2zM706 402h2v2h-2zM707 404h2v2h-2zM708 406h2v2h-2zM709 408h2v2h-2zM710 410h2v2h-2zM711 412h2v2h-2zM712 414h2v2h-2zM713 416h2v1h-2zM714 417h2v2h-2zM715 419h2v2h-2zM716 421h2v2h-2zM717 423h2v2h-2zM718 425h2v2h-2zM719 427h2v2h-2zM720 429h2v2h-2zM721 431h2v2h-2zM722 433h2v2h-2zM723 435h2v2h-2zM724 437h2v2h-2zM725 439h2v2h-2zM726 441h2v1h-2zM727 442h2v2h-2zM728 444h2v2h-2zM729 446h2v2h-2zM730 448h2v2h-2zM731 450h2v2h-2zM732 452h2v2h-2zM733 454h2v2h-2zM734 456h2v2h-2zM735 458h2v2h-2zM736 460h2v2h-2zM737 462h2v2h-2zM738 464h2v2h-2zM739 466h2v1h-2zM740 467h2v2h-2zM741 469h2v2h-2zM742 471h2v2h-2zM743 473h2v2h-2zM744 475h2v2h-2zM745 477h2v2h-2zM746 479h2v2h-2zM747 481h2v2h-2zM748 483h2v2h-2zM749 485h2v2h-2zM750 487h2v2h-2zM751 489h2v2h-2zM752 491h2v2h-2zM753 493h2v1h-2zM754 494h2v2h-2zM755 496h2v2h-2zM756 498h2v2h-2zM757 500h2v2h-2zM758 502h2v2h-2zM759 504h2v2h-2zM760 506h2v2h-2zM761 508h2v2h-2zM762 510h2v2h-2zM763 512h2v2h-2zM764 514h2v2h-2zM765 516h2v2h-2zM766 518h2v1h-2zM767 519h2v2h-2zM768 521h2v2h-2zM769 523h2v2h-2zM770 525h2v2h-2zM771 527h2v2h-2zM772 529h2v2h-2zM773 531h2v2h-2zM774 533h2v2h-2zM775 535h2v2h-2zM776 537h2v2h-2zM777 539h2v2h-2zM778 541h2v2h-2zM779 543h2v1h-2zM780 544h2v2h-2zM781 546h2v2h-2zM782 548h2v2h-2zM783 550h2v2h-2zM784 552h2v2h-2zM785 554h2v2h-2zM786 556h2v2h-2zM787 558h2v2h-2zM788 560h2v2h-2zM789 562h2v2h-2zM790 564h2v2h-2zM791 566h2v2h-2zM792 568h2v1h-2zM793 569h2v2h-2zM794 571h2v2h-2zM795 573h2v2h-2zM796 575h2v2h-2z" fill="#ff0000"/>
<path d="M757 454h1v2h-1zM758 454h1v2h-1zM759 454h1v2h-1zM760 454h1v2h-1zM761 454h1v2h-1zM762 454h1v2h-1zM763 454h1v2h-1zM764 454h1v2h-1zM765 455h1v2h-1zM766 455h1v2h-1zM767 455h1v2h-1zM768 455h1v2h-1zM769 455h1v2h-1zM770 455h1v2h-1zM771 455h1v2h-1zM772 456h1v2h-1zM773 456h1v2h-1zM774 456h1v2h-1zM775 456h1v2h-1zM776 456h1v2h-1zM777 456h1v2h-1zM778 456h1v2h-1zM779 457h1v2h-1zM780 457h1v2h-1zM781 457h1v2h-1zM782 457h1v2h-1zM783 457h1v2h-1zM784 457h1v2h-1zM785 458h1v2h-1zM786 458h1v2h-1zM787 458h1v2h-1zM788 458h1v2h-1zM789 458h1v2h-1zM790 458h1v2h-1zM791 458h1v2h-1zM792 459h1v2h-1zM793 459h1v2h-1zM794 459h1v2h-1zM795 459h1v2h-1zM796 459h1v2h-1zM797 459h1v2h-1zM798 459h1v2h-1zM799 460h1v2h-1zM800 460h1v2h-1zM801 460h1v2h-1zM802 460h1v2h-1zM803 460h1v2h-1zM804 460h1v2h-1zM805 461h1v2h-1zM806 461h1v2h-1zM807 461h1v2h-1zM808 461h1v2h-1zM809 461h1v2h-1zM810 461h1v2h-1zM811 461h1v2h-1zM812 462h1v2h-1zM813 462h1v2h-1zM814 462h1v2h-1zM815 462h1v2h-1zM816 462h1v2h-1zM817 462h1v2h-1zM818 463h1v2h-1zM819 463h1v2h-1zM820 463h1v2h-1zM821 463h1v2h-1zM822 463h1v2h-1zM823 463h1v2h-1zM824 463h1v2h-1zM825 464h1v2h-1zM826 464h1v2h-1zM827 464h1v2h-1zM828 464h1v2h-1zM829 464h1v2h-1zM830 464h1v2h-1zM831 464h1v2h-1zM832 465h1v2h-1zM833 465h1v2h-1zM834 465h1v2h-1zM835 465h1v2h-1zM836 465h1v2h-1zM837 465h1v2h-1zM838 466h1v2h-1zM839 466h1v2h-1zM840 466h1v2h-1zM841 466h1v2h-1zM842 466h1v2h-1zM843 466h1v2h-1zM844 466h1v2h-1zM845 467h1v2h-1zM846 467h1v2h-1zM847 467h1v2h-1zM848 467h1v2h-1zM849 467h1v2h-1zM850 467h1v2h-1zM851 468h1v2h-1zM852 468h1v2h-1zM853 468h1v2h-1zM854 468h1v2h-1zM855 468h1v2h-1zM856 468h1v2h-1zM857 468h1v2h-1zM858 469h1v2h-1zM859 469h1v2h-1zM860 469h1v2h-1zM861 469h1v2h-1zM862 469h1v2h-1zM863 469h1v2h-1zM864 469h1v2h-1zM865 470h1v2h-1zM866 470h1v2h-1zM867 470h1v2h-1zM868 470h1v2h-1zM869 470h1v2h-1zM870 470h1v2h-1zM871 471h1v2h-1zM872 471h1v2h-1zM873 471h1v2h-1zM874 471h1v2h-1zM875 471h1v2h-1zM876 471h1v2h-1zM877 471h1v2h-1zM878 472h1v2h-1zM879 472h1v2h-1zM880 472h1v2h-1zM881 472h1v2h-1zM882 472h1v2h-1zM883 472h1v2h-1zM884 473h1v2h-1zM885 473h1v2h-1zM886 473h1v2h-1zM887 473h1v2h-1zM888 473h1v2h-1zM889 473h1v2h-1zM890 473h1v2h-1zM891 474h1v2h-1zM892 474h1v2h-1zM893 474h1v2h-1zM894 474h1v2h-1zM895 474h1v2h-1zM896 474h1v2h-1zM897 474h1v2h-1zM898 475h1v2h-1zM899 475h1v2h-1zM900 475h1v2h-1zM901 475h1v2h-1zM902 475h1v2h-1zM903 475h1v2h-1zM904 476h1v2h-1zM905 476h1v2h-1zM906 476h1v2h-1zM907 476h1v2h-1zM908 476h1v2h-1zM909 476h1v2h-1zM910 476h1v2h-1zM911 477h1v2h-1zM912 477h1v2h-1zM913 477h1v2h-1zM914 477h1v2h-1zM915 477h1v2h-1zM916 477h1v2h-1zM917 478h1v2h-1zM918 478h1v2h-1zM919 478h1v2h-1zM920 478h1v2h-1zM921 478h1v2h-1zM922 478h1v2h-1zM923 478h1v2h-1zM924 479h1v2h-1zM925 479h1v2h-1zM926 479h1v2h-1zM927 479h1v2h-1zM928 479h1v2h-1zM929 479h1v2h-1zM930 479h1v2h-1zM931 480h1v2h-1zM932 480h1v2h-1zM933 480h1v2h-1zM934 480h1v2h-1zM935 480h1v2h-1zM936 480h1v2h-1zM937 481h1v2h-1zM938 481h1v2h-1zM939 481h1v2h-1zM940 481h1v2h-1zM941 481h1v2h-1zM942 481h1v2h-1zM943 481h1v2h-1zM944 482h1v2h-1zM945 482h1v2h-1zM946 482h1v2h-1zM947 482h1v2h-1zM948 482h1v2h-1zM949 482h1v2h-1zM950 483h1v2h-1zM951 483h1v2h-1zM952 483h1v2h-1zM953 483h1v2h-1zM954 483h1v2h-1zM955 483h1v2h-1zM956 483h1v2h-1zM957 484h1v2h-1zM958 484h1v2h-1zM959 484h1v2h-1zM960 484h1v2h-1zM961 484h1v2h-1zM962 484h1v2h-1zM963 484h1v2h-1zM964 485h1v2h-1zM965 485h1v2h-1zM966 485h1v2h-1zM967 485h1v2h-1zM968 485h1v2h-1zM969 485h1v2h-1zM970 486h1v2h-1zM971 486h1v2h-1zM972 486h1v2h-1zM973 486h1v2h-1zM974 486h1v2h-1zM975 486h1v2h-1zM976 486h1v2h-1zM977 487h1v2h-1zM978 487h1v2h-1zM979 487h1v2h-1zM980 487h1v2h-1zM981 487h1v2h-1zM982 487h1v2h-1zM983 488h1v2h-1zM984 488h1v2h-1zM985 488h1v2h-1zM986 488h1v2h-1zM987 488h1v2h-1zM988 488h1v2h-1zM989 488h1v2h-1zM990 489h1v2h-1zM991 489h1v2h-1zM992 489h1v2h-1zM993 489h1v2h-1zM994 489h1v2h-1zM995 489h1v2h-1zM996 489h1v2h-1zM997 490h1v2h-1zM998 490h1v2h-1zM999 490h1v2h-1zM1000 490h1v2h-1zM1001 490h1v2h-1zM1002 490h1v2h-1zM1003 491h1v2h-1zM1004 491h1v2h-1zM1005 491h1v2h-1zM1006 491h1v2h-1zM1007 491h1v2h-1zM1008 491h1v2h-1zM1009 491h1v2h-1zM1010 492h1v2h-1zM1011 492h1v2h-1zM1012 492h1v2h-1zM1013 492h1v2h-1zM1014 492h1v2h-1zM1015 492h1v2h-1zM1016 493h1v2h-1zM1017 493h1v2h-1zM1018 493h1v2h-1zM1019 493h1v2h-1zM1020 493h1v2h-1zM1021 493h1v2h-1zM1022 493h1v2h-1zM1023 494h1v2h-1zM1024 494h1v2h-1zM1025 494h1v2h-1zM1026 494h1v2h-1zM1027 494h1v2h-1zM1028 494h1v2h-1zM1029 494h1v2h-1z" fill="#ff0000"/>
<path d="M813 578h1v2h-1zM814 577h2v2h-2zM816 576h3v2h-3zM819 575h3v2h-3zM822 574h2v2h-2zM824 573h3v2h-3zM827 572h3v2h-3zM830 571h2v2h-2zM832 570h3v2h-3zM835 569h3v2h-3zM838 568h3v2h-3zM841 567h2v2h-2zM843 566h3v2h-3zM846 565h3v2h-3zM849 564h2v2h-2zM851 563h3v2h-3zM854 562h3v2h-3zM857 561h2v2h-2zM859 560h3v2h-3zM862 559h3v2h-3zM865 558h3v2h-3zM868 557h2v2h-2zM870 556h3v2h-3zM873 555h3v2h-3zM876 554h2v2h-2zM878 553h3v2h-3zM881 552h3v2h-3zM884 551h2v2h-2zM886 550h3v2h-3zM889 549h3v2h-3zM892 548h3v2h-3zM895 547h2v2h-2zM897 546h3v2h-3zM900 545h3v2h-3zM903 544h2v2h-2zM905 543h3v2h-3zM908 542h3v2h-3zM911 541h2v2h-2zM913 540h3v2h-3zM916 539h3v2h-3zM919 538h3v2h-3zM922 537h2v2h-2zM924 536h3v2h-3zM927 535h3v2h-3zM930 534h2v2h-2zM932 533h3v2h-3zM935 532h3v2h-3zM938 531h2v2h-2zM940 530h3v2h-3zM943 529h3v2h-3zM946 528h3v2h-3zM949 527h2v2h-2zM951 526h3v2h-3zM954 525h3v2h-3zM957 524h2v2h-2zM959 523h3v2h-3zM962 522h3v2h-3zM965 521h2v2h-2zM967 520h3v2h-3zM970 519h3v2h-3zM973 518h3v2h-3zM976 517h2v2h-2zM978 516h3v2h-3zM981 515h3v2h-3zM984 514h2v2h-2zM986 513h3v2h-3zM989 512h3v2h-3zM992 511h2v2h-2zM994 510h3v2h-3zM997 509h3v2h-3zM1000 508h3v2h-3zM1003 507h2v2h-2zM1005 506h3v2h-3zM1008 505h3v2h-3zM1011 504h2v2h-2zM1013 503h3v2h-3zM1016 502h3v2h-3zM1019 501h3v2h-3z" fill="#ff0000"/>
<path d="M250 703h9v2h-9zM259 702h10v2h-10zM269 701h10v2h-10zM279 700h11v2h-11zM290 699h10v2h-10zM300 698h10v2h-10zM310 697h10v2h-10zM320 696h10v2h-10zM330 695h11v2h-11zM341 694h10v2h-10zM351 693h10v2h-10zM361 692h10v2h-10zM371 691h10v2h-10zM381 690h10v2h-10zM391 689h11v2h-11zM402 688h10v2h-10zM412 687h10v2h-10zM422 686h10v2h-10zM432 685h10v2h-10zM442 684h11v2h-11zM453 683h10v2h-10zM463 682h10v2h-10zM473 681h10v2h-10zM483 680h10v2h-10zM493 679h10v2h-10zM503 678h11v2h-11zM514 677h10v2h-10zM524 676h10v2h-10zM534 675h10v2h-10zM544 674h10v2h-10zM554 673h11v2h-11zM565 672h10v2h-10zM575 671h10v2h-10zM585 670h10v2h-10zM595 669h10v2h-10zM605 668h10v2h-10zM615 667h11v2h-11zM626 666h10v2h-10zM636 665h10v2h-10zM646 664h10v2h-10zM656 663h10v2h-10zM666 662h10v2h-10zM676 661h11v2h-11zM687 660h10v2h-10zM697 659h10v2h-10zM707 658h10v2h-10zM717 657h10v2h-10zM727 656h11v2h-11zM738 655h10v2h-10zM748 654h10v2h-10zM758 653h10v2h-10zM768 652h10v2h-10zM778 651h10v2h-10zM788 650h11v2h-11zM799 649h10v2h-10zM809 648h10v2h-10zM819 647h10v2h-10zM829 646h10v2h-10zM839 645h11v2h-11zM850 644h10v2h-10zM860 643h10v2h-10zM870 642h10v2h-10zM880 641h10v2h-10zM890 640h10v2h-10zM900 639h11v2h-11zM911 638h10v2h-10zM921 637h10v2h-10zM931 636h10v2h-10zM941 635h10v2h-10zM951 634h11v2h-11zM962 633h10v2h-10zM972 632h10v2h-10zM982 631h10v2h-10zM992 630h10v2h-10zM1002 629h10v2h-10zM1012 628h11v2h-11zM1023 627h10v2h-10zM1033 626h10v2h-10zM1043 625h10v2h-10zM1053 624h10v2h-10zM1063 623h11v2h-11zM1074 622h10v2h-10zM1084 621h10v2h-10zM1094 620h10v2h-10zM1104 619h10v2h-10zM1114 618h10v2h-10zM1124 617h11v2h-11zM1135 616h10v2h-10zM1145 615h10v2h-10zM1155 614h10v2h-10zM1165 613h10v2h-10zM1175 612h11v2h-11zM1186 611h10v2h-10zM1196 610h10v2h-10zM1206 609h10v2h-10zM1216 608h10v2h-10zM1226 607h10v2h-10zM1236 606h6v2h-6z" fill="#ff0000"/>
<path d="M989 5h9l-4.5 5z" fill="#c0c0c0"/>
</g>
<rect x="0" y="0" width="1293" height="1" fill="#adadad"/>
<rect x="0" y="1" width="1293" height="1" fill="#858585"/>
<rect x="0" y="0" width="1" height="723" fill="#adadad"/>
<rect x="1" y="1" width="1" height="722" fill="#8c8c8c"/>
<rect x="1293" y="0" width="1" height="723" fill="#e3e9e9"/>
<rect x="0" y="722" width="1294" height="1" fill="#e3e9e9"/>
<rect x="4" y="4" width="1239" height="1" fill="#000"/>
<rect x="4" y="4" width="1" height="699" fill="#000"/>
<rect x="1242" y="4" width="1" height="699" fill="#000"/>
<rect x="4" y="702" width="1239" height="1" fill="#000"/>
<g text-rendering="geometricPrecision">
<rect x="1243" y="6" width="2" height="1" fill="#000"/>
<text x="1248" y="10" textLength="38" lengthAdjust="spacingAndGlyphs">20.76020</text>
<rect x="1243" y="39" width="2" height="1" fill="#000"/>
<text x="1248" y="43" textLength="38" lengthAdjust="spacingAndGlyphs">20.65130</text>
<rect x="1243" y="72" width="2" height="1" fill="#000"/>
<text x="1248" y="76" textLength="38" lengthAdjust="spacingAndGlyphs">20.53910</text>
<rect x="1243" y="105" width="2" height="1" fill="#000"/>
<text x="1248" y="109" textLength="38" lengthAdjust="spacingAndGlyphs">20.43020</text>
<rect x="1243" y="138" width="2" height="1" fill="#000"/>
<text x="1248" y="142" textLength="38" lengthAdjust="spacingAndGlyphs">20.32130</text>
<rect x="1243" y="171" width="2" height="1" fill="#000"/>
<text x="1248" y="175" textLength="38" lengthAdjust="spacingAndGlyphs">20.20910</text>
<rect x="1243" y="204" width="2" height="1" fill="#000"/>
<text x="1248" y="208" textLength="38" lengthAdjust="spacingAndGlyphs">20.10020</text>
<rect x="1243" y="237" width="2" height="1" fill="#000"/>
<text x="1248" y="241" textLength="38" lengthAdjust="spacingAndGlyphs">19.99130</text>
<rect x="1243" y="270" width="2" height="1" fill="#000"/>
<text x="1248" y="274" textLength="38" lengthAdjust="spacingAndGlyphs">19.87910</text>
<rect x="1243" y="303" width="2" height="1" fill="#000"/>
<text x="1248" y="307" textLength="38" lengthAdjust="spacingAndGlyphs">19.77020</text>
<rect x="1243" y="336" width="2" height="1" fill="#000"/>
<text x="1248" y="340" textLength="38" lengthAdjust="spacingAndGlyphs">19.66130</text>
<rect x="1243" y="369" width="2" height="1" fill="#000"/>
<text x="1248" y="373" textLength="38" lengthAdjust="spacingAndGlyphs">19.55240</text>
<rect x="1243" y="402" width="2" height="1" fill="#000"/>
<text x="1248" y="406" textLength="38" lengthAdjust="spacingAndGlyphs">19.44020</text>
<rect x="1243" y="435" width="2" height="1" fill="#000"/>
<text x="1248" y="439" textLength="38" lengthAdjust="spacingAndGlyphs">19.33130</text>
<rect x="1243" y="468" width="2" height="1" fill="#000"/>
<text x="1248" y="472" textLength="38" lengthAdjust="spacingAndGlyphs">19.22240</text>
<rect x="1243" y="501" width="2" height="1" fill="#000"/>
<text x="1248" y="505" textLength="38" lengthAdjust="spacingAndGlyphs">19.11020</text>
<rect x="1243" y="534" width="2" height="1" fill="#000"/>
<text x="1248" y="538" textLength="38" lengthAdjust="spacingAndGlyphs">19.00130</text>
<rect x="1243" y="567" width="2" height="1" fill="#000"/>
<text x="1248" y="571" textLength="38" lengthAdjust="spacingAndGlyphs">18.89240</text>
<rect x="1243" y="600" width="2" height="1" fill="#000"/>
<text x="1248" y="604" textLength="38" lengthAdjust="spacingAndGlyphs">18.78020</text>
<rect x="1243" y="633" width="2" height="1" fill="#000"/>
<text x="1248" y="637" textLength="38" lengthAdjust="spacingAndGlyphs">18.67130</text>
<rect x="1243" y="666" width="2" height="1" fill="#000"/>
<text x="1248" y="670" textLength="38" lengthAdjust="spacingAndGlyphs">18.56240</text>
<rect x="1243" y="699" width="2" height="1" fill="#000"/>
<text x="1248" y="703" textLength="38" lengthAdjust="spacingAndGlyphs">18.45350</text>
<rect x="1244" y="78" width="46" height="11" fill="#000"/>
<text x="1248" y="87" textLength="38" lengthAdjust="spacingAndGlyphs" style="fill:#fff;stroke:#fff">20.50000</text>
<rect x="1244" y="228" width="46" height="11" fill="#000"/>
<text x="1248" y="237" textLength="38" lengthAdjust="spacingAndGlyphs" style="fill:#fff;stroke:#fff">20.00000</text>
<rect x="1244" y="378" width="46" height="11" fill="#000"/>
<text x="1248" y="387" textLength="38" lengthAdjust="spacingAndGlyphs" style="fill:#fff;stroke:#fff">19.50000</text>
<rect x="1244" y="442" width="46" height="11" fill="#000"/>
<text x="1248" y="451" textLength="38" lengthAdjust="spacingAndGlyphs" style="fill:#fff;stroke:#fff">19.28973</text>
<rect x="1244" y="528" width="46" height="11" fill="#000"/>
<text x="1248" y="537" textLength="38" lengthAdjust="spacingAndGlyphs" style="fill:#fff;stroke:#fff">19.00000</text>
<rect x="1244" y="679" width="46" height="11" fill="#000"/>
<text x="1248" y="688" textLength="38" lengthAdjust="spacingAndGlyphs" style="fill:#fff;stroke:#fff">18.50000</text>
<text x="1228" y="36" textLength="13" lengthAdjust="spacingAndGlyphs" style="fill:#005000;stroke:#005000;stroke-width:0.2px">0.0</text>
<text x="1223.3" y="189" textLength="17.7" lengthAdjust="spacingAndGlyphs" style="fill:#005000;stroke:#005000;stroke-width:0.2px">23.6</text>
<text x="1223.3" y="283" textLength="17.7" lengthAdjust="spacingAndGlyphs" style="fill:#005000;stroke:#005000;stroke-width:0.2px">38.2</text>
<text x="1223.3" y="360" textLength="17.7" lengthAdjust="spacingAndGlyphs" style="fill:#005000;stroke:#005000;stroke-width:0.2px">50.0</text>
<text x="1223.3" y="436" textLength="17.7" lengthAdjust="spacingAndGlyphs" style="fill:#005000;stroke:#005000;stroke-width:0.2px">61.8</text>
<text x="1218.5" y="683" textLength="22.5" lengthAdjust="spacingAndGlyphs" style="fill:#005000;stroke:#005000;stroke-width:0.2px">100.0</text>
<rect x="5" y="703" width="1" height="3" fill="#000"/>
<text x="4" y="715" textLength="52" lengthAdjust="spacingAndGlyphs">23 Sep 2018</text>
<rect x="69" y="703" width="1" height="3" fill="#000"/>
<text x="68" y="715" textLength="44.3" lengthAdjust="spacingAndGlyphs">2 Oct 2018</text>
<rect x="133" y="703" width="1" height="3" fill="#000"/>
<text x="132" y="715" textLength="49.7" lengthAdjust="spacingAndGlyphs">11 Oct 2018</text>
<rect x="197" y="703" width="1" height="3" fill="#000"/>
<text x="196" y="715" textLength="50" lengthAdjust="spacingAndGlyphs">21 Oct 2018</text>
<rect x="261" y="703" width="1" height="3" fill="#000"/>
<text x="260" y="715" textLength="50" lengthAdjust="spacingAndGlyphs">30 Oct 2018</text>
<rect x="325" y="703" width="1" height="3" fill="#000"/>
<text x="324" y="715" textLength="48" lengthAdjust="spacingAndGlyphs">8 Nov 2018</text>
<rect x="389" y="703" width="1" height="3" fill="#000"/>
<text x="388" y="715" textLength="53.3" lengthAdjust="spacingAndGlyphs">18 Nov 2018</text>
<rect x="453" y="703" width="1" height="3" fill="#000"/>
<text x="452" y="715" textLength="53.3" lengthAdjust="spacingAndGlyphs">27 Nov 2018</text>
<rect x="517" y="703" width="1" height="3" fill="#000"/>
<text x="516" y="715" textLength="46.7" lengthAdjust="spacingAndGlyphs">6 Dec 2018</text>
<rect x="581" y="703" width="1" height="3" fill="#000"/>
<text x="580" y="715" textLength="51" lengthAdjust="spacingAndGlyphs">16 Dec 2018</text>
<rect x="645" y="703" width="1" height="3" fill="#000"/>
<text x="644" y="715" textLength="51" lengthAdjust="spacingAndGlyphs">25 Dec 2018</text>
<rect x="709" y="703" width="1" height="3" fill="#000"/>
<text x="708" y="715" textLength="44.7" lengthAdjust="spacingAndGlyphs">3 Jan 2019</text>
<rect x="773" y="703" width="1" height="3" fill="#000"/>
<text x="772" y="715" textLength="49.3" lengthAdjust="spacingAndGlyphs">13 Jan 2019</text>
<rect x="837" y="703" width="1" height="3" fill="#000"/>
<text x="836" y="715" textLength="49.7" lengthAdjust="spacingAndGlyphs">22 Jan 2019</text>
<rect x="901" y="703" width="1" height="3" fill="#000"/>
<text x="900" y="715" textLength="50" lengthAdjust="spacingAndGlyphs">31 Jan 2019</text>
<rect x="965" y="703" width="1" height="3" fill="#000"/>
<text x="964" y="715" textLength="51.7" lengthAdjust="spacingAndGlyphs">10 Feb 2019</text>
<path d="M8 11h7l-3.5 4z" fill="#000"/>
<text x="20.6" y="16" textLength="64" lengthAdjust="spacingAndGlyphs">USDMXN,Daily</text>
<text x="91" y="16" textLength="161" lengthAdjust="spacingAndGlyphs">19.29814 19.31386 19.20624 19.28973</text>
</g>
</svg></body></html>
